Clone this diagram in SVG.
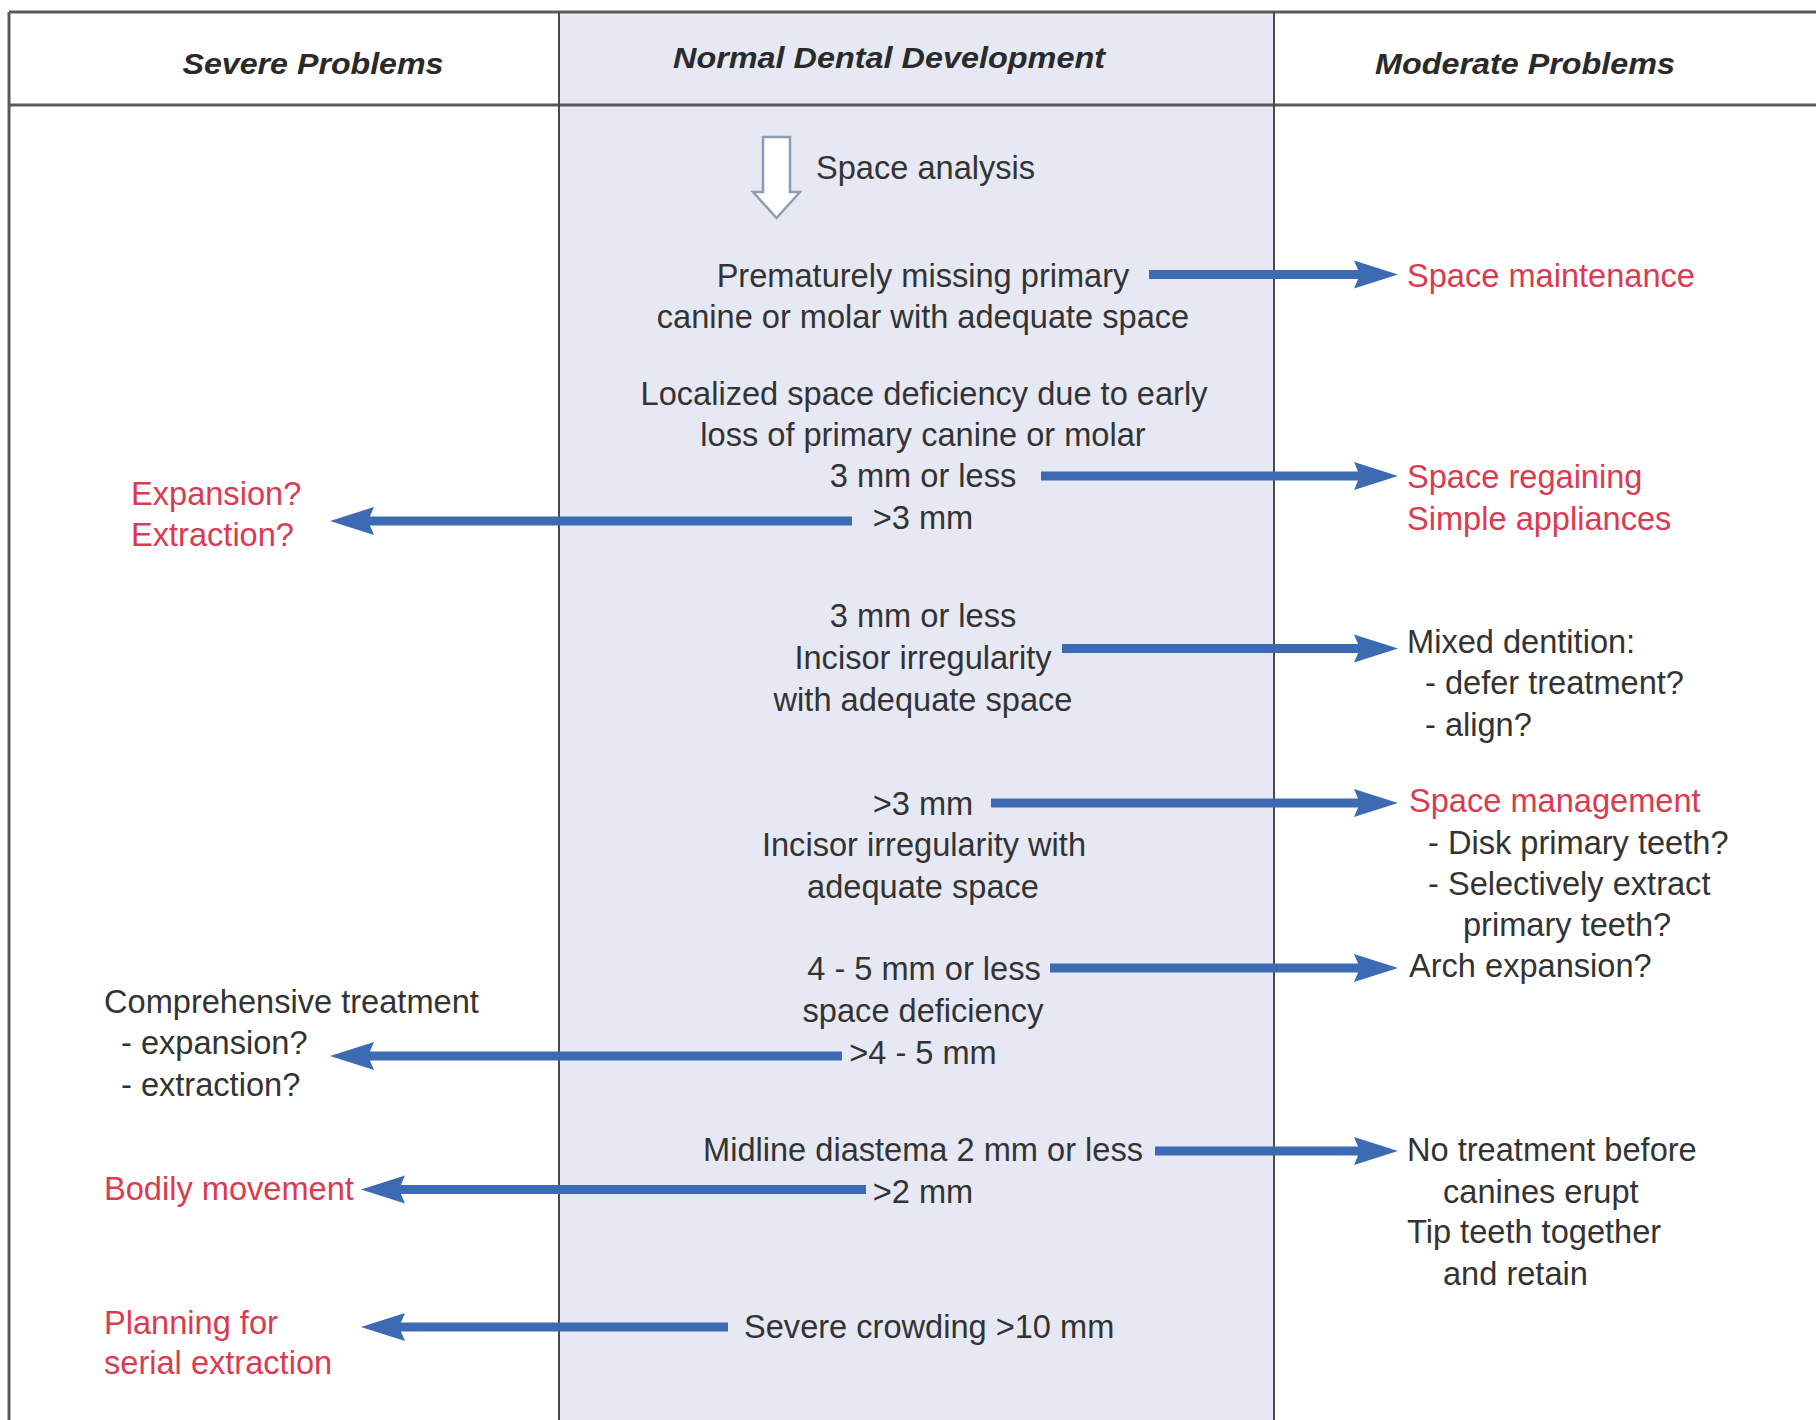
<svg xmlns="http://www.w3.org/2000/svg" width="1816" height="1420" viewBox="0 0 1816 1420">
<style>
.t{font-family:"Liberation Sans",Arial,sans-serif;font-size:32.6px;fill:#333}
.r{fill:#dc3a50}
.m{text-anchor:middle}
.h{font-family:"Liberation Sans",Arial,sans-serif;font-size:30px;font-weight:bold;font-style:italic;fill:#2a2a2a;text-anchor:middle}
.frame{stroke:#5a5a5a;stroke-width:3;fill:none}
.div{stroke:#4a4a4a;stroke-width:2;fill:none}
.arr{stroke:#3c6bb3;stroke-width:9;fill:none;marker-end:url(#ah)}
</style>
<defs>
<marker id="ah" markerUnits="userSpaceOnUse" markerWidth="46" markerHeight="30" refX="6" refY="14" orient="auto" viewBox="0 0 46 28">
<path d="M0,0 L44,14 L0,28 L6,14 Z" fill="#3c6bb3"/>
</marker>
</defs>
<rect x="0" y="0" width="1816" height="1420" fill="#ffffff"/>
<rect x="559" y="12" width="715" height="1408" fill="#e6e8f4"/>
<g id="frame">
<line class="frame" x1="9" y1="12" x2="1816" y2="12"/>
<line class="frame" x1="9" y1="105" x2="1816" y2="105"/>
<line class="frame" x1="9" y1="12" x2="9" y2="1420"/>
<line class="div" x1="559" y1="12" x2="559" y2="1420"/>
<line class="div" x1="1274" y1="12" x2="1274" y2="1420"/>
</g>
<g id="headers">
<text class="h" x="313" y="74" textLength="261" lengthAdjust="spacingAndGlyphs">Severe Problems</text>
<text class="h" x="889" y="68" textLength="432" lengthAdjust="spacingAndGlyphs">Normal Dental Development</text>
<text class="h" x="1525" y="74" textLength="300" lengthAdjust="spacingAndGlyphs">Moderate Problems</text>
</g>
<g id="space-analysis">
<path d="M763,137 H790 V192 H800 L776.5,218 L753,192 H763 Z" fill="#ffffff" stroke="#8d9cb2" stroke-width="2.5"/>
<text class="t" x="816" y="179">Space analysis</text>
</g>
<g id="n-premature">
<text class="t m" x="923" y="287">Prematurely missing primary</text>
<text class="t m" x="923" y="328">canine or molar with adequate space</text>
</g>
<g id="n-localized">
<text class="t m" x="924" y="405">Localized space deficiency due to early</text>
<text class="t m" x="923" y="446">loss of primary canine or molar</text>
<text class="t m" x="923" y="487">3 mm or less</text>
<text class="t m" x="923" y="529">&gt;3 mm</text>
</g>
<g id="n-incisor1">
<text class="t m" x="923" y="627">3 mm or less</text>
<text class="t m" x="923" y="669">Incisor irregularity</text>
<text class="t m" x="923" y="711">with adequate space</text>
</g>
<g id="n-incisor2">
<text class="t m" x="923" y="815">&gt;3 mm</text>
<text class="t m" x="924" y="856">Incisor irregularity with</text>
<text class="t m" x="923" y="898">adequate space</text>
</g>
<g id="n-deficiency">
<text class="t m" x="924" y="980">4 - 5 mm or less</text>
<text class="t m" x="923" y="1022">space deficiency</text>
<text class="t m" x="923" y="1064">&gt;4 - 5 mm</text>
</g>
<g id="n-midline">
<text class="t m" x="923" y="1161">Midline diastema 2 mm or less</text>
<text class="t m" x="923" y="1203">&gt;2 mm</text>
</g>
<g id="n-crowding">
<text class="t" x="744" y="1338">Severe crowding &gt;10 mm</text>
</g>
<g id="n-expansion">
<text class="t r" x="131" y="505">Expansion?</text>
<text class="t r" x="131" y="546">Extraction?</text>
</g>
<g id="n-comprehensive">
<text class="t" x="104" y="1013">Comprehensive treatment</text>
<text class="t" x="121" y="1054">- expansion?</text>
<text class="t" x="121" y="1096">- extraction?</text>
</g>
<g id="n-bodily">
<text class="t r" x="104" y="1200">Bodily movement</text>
</g>
<g id="n-planning">
<text class="t r" x="104" y="1334">Planning for</text>
<text class="t r" x="104" y="1374">serial extraction</text>
</g>
<g id="n-maintenance">
<text class="t r" x="1407" y="287">Space maintenance</text>
</g>
<g id="n-regaining">
<text class="t r" x="1407" y="488">Space regaining</text>
<text class="t r" x="1407" y="530">Simple appliances</text>
</g>
<g id="n-mixed">
<text class="t" x="1407" y="653">Mixed dentition:</text>
<text class="t" x="1425" y="694">- defer treatment?</text>
<text class="t" x="1425" y="736">- align?</text>
</g>
<g id="n-management">
<text class="t r" x="1409" y="812">Space management</text>
<text class="t" x="1428" y="854">- Disk primary teeth?</text>
<text class="t" x="1428" y="895">- Selectively extract</text>
<text class="t" x="1463" y="936">primary teeth?</text>
</g>
<g id="n-arch">
<text class="t" x="1409" y="977">Arch expansion?</text>
</g>
<g id="n-notreatment">
<text class="t" x="1407" y="1161">No treatment before</text>
<text class="t" x="1443" y="1203">canines erupt</text>
<text class="t" x="1407" y="1243">Tip teeth together</text>
<text class="t" x="1443" y="1285">and retain</text>
</g>
<g id="connectors">
<line class="arr" x1="1149" y1="274.5" x2="1360" y2="274.5"/>
<line class="arr" x1="1041" y1="476" x2="1360" y2="476"/>
<line class="arr" x1="852" y1="521" x2="368" y2="521"/>
<line class="arr" x1="1062" y1="648.5" x2="1360" y2="648.5"/>
<line class="arr" x1="991" y1="803" x2="1360" y2="803"/>
<line class="arr" x1="1050" y1="968" x2="1360" y2="968"/>
<line class="arr" x1="842" y1="1056" x2="368" y2="1056"/>
<line class="arr" x1="1155" y1="1151" x2="1360" y2="1151"/>
<line class="arr" x1="866" y1="1189.5" x2="399" y2="1189.5"/>
<line class="arr" x1="728" y1="1327" x2="399" y2="1327"/>
</g>
</svg>
